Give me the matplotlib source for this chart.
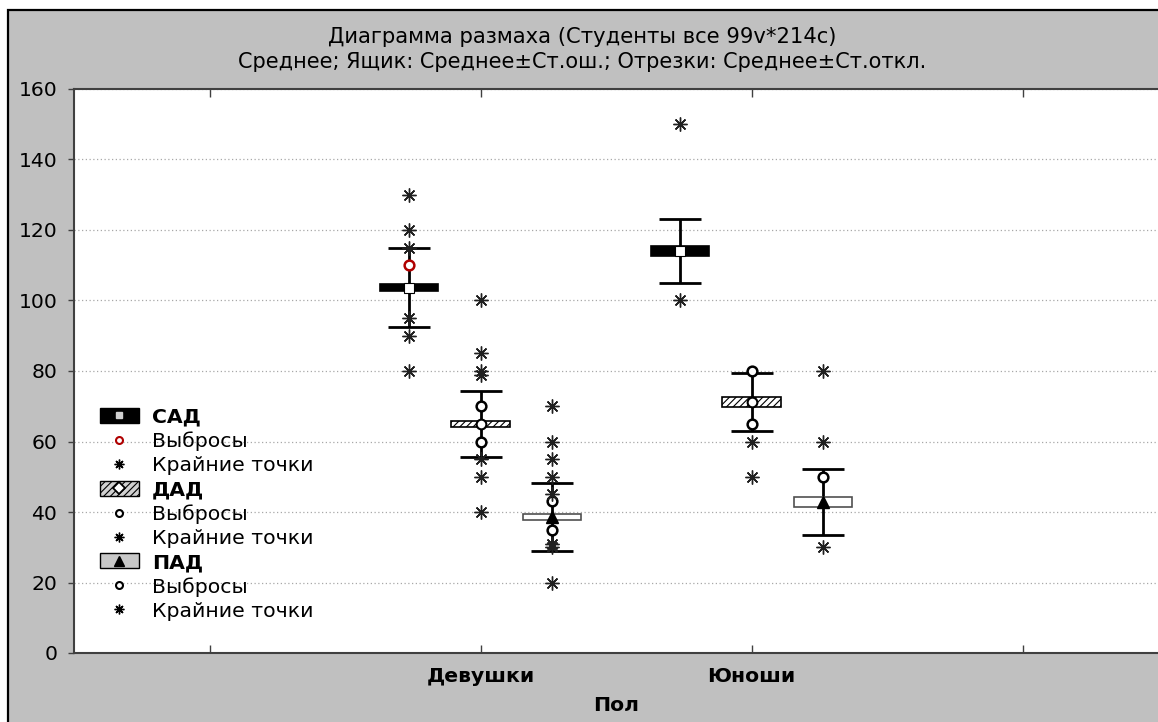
import matplotlib
matplotlib.use("Agg")
import matplotlib.pyplot as plt
from matplotlib.patches import Rectangle, Patch
from matplotlib.lines import Line2D
from matplotlib.legend_handler import HandlerTuple

# --------- DATA ---------
groups = ["Девушки", "Юноши"]
variables = ["САД", "ДАД", "ПАД"]

# mean, standard error (box), standard deviation (whiskers)
sad_mean = [103.6, 114.0]
sad_se = [1.0, 1.5]
sad_sd = [11.2, 9.0]
dad_mean = [64.9, 71.2]
dad_se = [0.8, 1.35]
dad_sd = [9.4, 8.1]
pad_mean = [38.6, 42.9]
pad_se = [0.8, 1.45]
pad_sd = [9.7, 9.4]

# outliers (circles) and extreme points (asterisks)
sad_outliers = [[110], []]
sad_extremes = [[130, 120, 115, 95, 90, 80], [150, 100]]
dad_outliers = [[70, 60], [80, 65]]
dad_extremes = [[100, 85, 80, 79, 55, 50, 40], [60, 50]]
pad_outliers = [[43, 35], [50]]
pad_extremes = [[70, 60, 55, 50, 45, 31, 30, 20], [80, 60, 30]]

y_ticks = [0, 20, 40, 60, 80, 100, 120, 140, 160]
x_ticks = [0, 1, 2, 3]
x_tick_labels = ["", "Девушки", "Юноши", ""]
# -----------------------------------------------

BG = "#c0c0c0"
STAR = (8, 2, 0)  # eight-armed asterisk
FS = 14.7

plt.rcParams["font.family"] = ["DejaVu Sans"]
plt.rcParams["hatch.linewidth"] = 0.8

fig = plt.figure(figsize=(11.58, 7.22), dpi=100, facecolor="white")

# grey panel with black border (cut off at right and bottom)
fig.add_artist(Rectangle((8 / 1158, -0.05), 1.2, 1 - 10 / 722 + 0.05,
                         transform=fig.transFigure, facecolor=BG,
                         edgecolor="black", linewidth=1.6, zorder=-5))

ax = fig.add_axes([74 / 1158, 69 / 722, 1084 / 1158, 564 / 722])
ax.set_facecolor("white")
ax.set_xlim(-0.5, 3.5)
ax.set_ylim(0, 160)

series = [
    (sad_mean, sad_se, sad_sd, sad_outliers, sad_extremes,
     dict(facecolor="black", edgecolor="black"),
     dict(marker="s", ms=7, mfc="white", mec="black", mew=0.8),
     "#b00000"),
    (dad_mean, dad_se, dad_sd, dad_outliers, dad_extremes,
     dict(facecolor="white", edgecolor="black", hatch="/////"),
     dict(marker="o", ms=7, mfc="white", mec="black", mew=1.5),
     "black"),
    (pad_mean, pad_se, pad_sd, pad_outliers, pad_extremes,
     dict(facecolor="white", edgecolor="#505050"),
     dict(marker="^", ms=8, mfc="black", mec="black"),
     "black"),
]
offsets = [-0.265, 0.0, 0.265]

for (mean, se, sd, outl, extr, box_kw, mean_kw, out_col), off in zip(series, offsets):
    xs = [i + 1 + off for i in range(len(groups))]
    ax.errorbar(xs, mean, yerr=sd, fmt="none", ecolor="black",
                elinewidth=2, capsize=15, capthick=2, zorder=2)
    ax.bar(xs, [2 * s for s in se], bottom=[m - s for m, s in zip(mean, se)],
           width=0.215, linewidth=1.2, zorder=3, **box_kw)
    ax.plot(xs, mean, linestyle="none", zorder=5, **mean_kw)
    for x, vals in zip(xs, outl):
        ax.plot([x] * len(vals), vals, linestyle="none", marker="o", ms=7,
                mfc="white", mec=out_col, mew=1.8, zorder=6)
    for x, vals in zip(xs, extr):
        ax.plot([x] * len(vals), vals, linestyle="none", marker=STAR, ms=10,
                mec="#202020", mew=1.0, zorder=6)

# axes styling
ax.set_yticks(y_ticks)
ax.set_xticks(x_ticks)
ax.set_xticklabels(x_tick_labels, fontweight="bold", fontsize=FS)
ax.grid(axis="y", color="#a8a8a8", linestyle=(0, (1, 2)), linewidth=0.9)
ax.set_axisbelow(True)
for side in ("left", "top", "bottom"):
    ax.spines[side].set_color("#404040")
    ax.spines[side].set_linewidth(1.5)
ax.spines["right"].set_visible(False)
ax.tick_params(axis="x", direction="in", top=True, length=6, width=1,
               color="#404040", pad=10)
ax.tick_params(axis="y", direction="out", length=4, width=1,
               color="#404040", labelsize=FS, pad=8)
ax.set_xlabel("Пол", fontweight="bold", fontsize=FS, labelpad=7)

fig.text(0.503, 1 - 37 / 722, "Диаграмма размаха (Студенты все 99v*214c)",
         ha="center", va="center", fontsize=15.2)
fig.text(0.503, 1 - 62 / 722,
         "Среднее; Ящик: Среднее±Ст.ош.; Отрезки: Среднее±Ст.откл.",
         ha="center", va="center", fontsize=15)

# legend
star = Line2D([], [], linestyle="none", marker=STAR, ms=7, mec="black", mew=1.0)
circ = Line2D([], [], linestyle="none", marker="o", ms=5, mfc="white",
              mec="black", mew=1.5)
handles = [
    (Patch(facecolor="black", edgecolor="black"),
     Line2D([], [], linestyle="none", marker="s", ms=5, mfc="#d0d0d0", mec="#d0d0d0")),
    Line2D([], [], linestyle="none", marker="o", ms=5, mfc="white",
           mec="#b00000", mew=1.5),
    star,
    (Patch(facecolor="#d0d0d0", edgecolor="black", hatch="/////"),
     Line2D([], [], linestyle="none", marker="D", ms=6, mfc="white", mec="black",
            mew=1.3)),
    circ,
    star,
    (Patch(facecolor="#c8c8c8", edgecolor="black"),
     Line2D([], [], linestyle="none", marker="^", ms=7, mfc="black", mec="black")),
    circ,
    star,
]
labels = ["САД", "Выбросы", "Крайние точки",
          "ДАД", "Выбросы", "Крайние точки",
          "ПАД", "Выбросы", "Крайние точки"]
leg = ax.legend(handles, labels, loc="upper left",
                bbox_to_anchor=(0.024, 0.435), frameon=False,
                handler_map={tuple: HandlerTuple(ndivide=1, pad=0)},
                fontsize=FS, handlelength=1.9, handleheight=0.75,
                handletextpad=0.65, labelspacing=0.245, borderpad=0,
                borderaxespad=0)
for t in leg.get_texts():
    if t.get_text() in variables:
        t.set_fontweight("bold")

fig.savefig("out.png", dpi=100, facecolor=fig.get_facecolor())
